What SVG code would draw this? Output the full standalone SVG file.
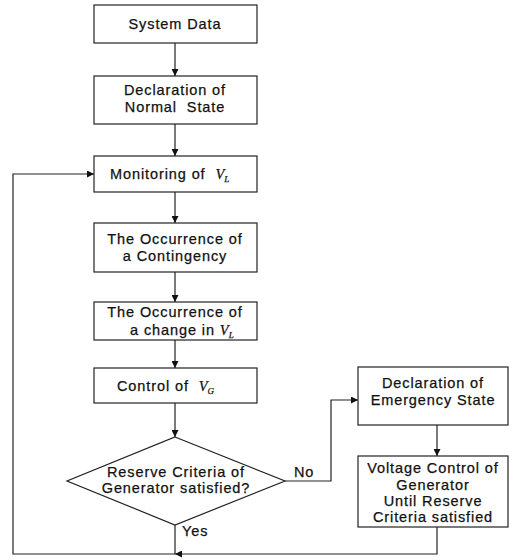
<svg xmlns="http://www.w3.org/2000/svg" width="529" height="560" viewBox="0 0 529 560">
<defs>
<marker id="ah" viewBox="0 0 10 10" refX="10" refY="5" markerWidth="7" markerHeight="7" orient="auto" markerUnits="userSpaceOnUse">
<path d="M0,0 L10,5 L0,10 z" fill="#111"/>
</marker>
<style>
.box{fill:#fff;stroke:#222;stroke-width:1.2}
.t{font-family:"Liberation Sans",Arial,sans-serif;font-size:14.5px;letter-spacing:0.9px;fill:#111;text-anchor:middle;stroke:#111;stroke-width:0.25;white-space:pre}
.l{text-anchor:start}
.v{font-family:"Liberation Serif","Times New Roman",serif;font-style:italic;letter-spacing:0}
.s{font-size:9px}
.c{fill:none;stroke:#222;stroke-width:1.2}
</style>
</defs>
<rect width="529" height="560" fill="#fff"/>
<g id="connectors">
<line class="c" x1="175" y1="43" x2="175" y2="76" marker-end="url(#ah)"/>
<line class="c" x1="175" y1="124" x2="175" y2="156" marker-end="url(#ah)"/>
<line class="c" x1="175" y1="192" x2="175" y2="223" marker-end="url(#ah)"/>
<line class="c" x1="175" y1="272" x2="175" y2="302" marker-end="url(#ah)"/>
<line class="c" x1="175" y1="340" x2="175" y2="368" marker-end="url(#ah)"/>
<line class="c" x1="175" y1="403" x2="175" y2="437" marker-end="url(#ah)"/>
<polyline class="c" points="285,481 331,481 331,400 358,400" marker-end="url(#ah)"/>
<line class="c" x1="437" y1="425" x2="437" y2="456" marker-end="url(#ah)"/>
<polyline class="c" points="437,527 437,554 175,554" marker-end="url(#ah)"/>
<line class="c" x1="175" y1="525" x2="175" y2="554"/>
<polyline class="c" points="175,554 13,554 13,174 94,174" marker-end="url(#ah)"/>
<text class="t l" x="294" y="477">No</text>
<text class="t l" x="182" y="536">Yes</text>
</g>
<g id="system-data">
<rect class="box" x="94" y="5" width="163" height="38"/>
<text class="t" x="175" y="29">System Data</text>
</g>
<g id="normal-state">
<rect class="box" x="94" y="76" width="163" height="48"/>
<text class="t" x="175" y="95">Declaration of</text>
<text class="t" x="175" y="112" xml:space="preserve">Normal  State</text>
</g>
<g id="monitoring">
<rect class="box" x="94" y="156" width="163" height="36"/>
<text class="t l" x="110" y="179" xml:space="preserve">Monitoring of  <tspan class="v">V</tspan><tspan class="v s" dy="3">L</tspan></text>
</g>
<g id="contingency">
<rect class="box" x="94" y="223" width="163" height="49"/>
<text class="t" x="175" y="244">The Occurrence of</text>
<text class="t" x="175" y="261">a Contingency</text>
</g>
<g id="change">
<rect class="box" x="94" y="302" width="163" height="38"/>
<text class="t" x="175" y="317">The Occurrence of</text>
<text class="t l" x="130" y="335">a change in <tspan class="v">V</tspan><tspan class="v s" dy="3">L</tspan></text>
</g>
<g id="control">
<rect class="box" x="94" y="368" width="163" height="35"/>
<text class="t l" x="117" y="391" xml:space="preserve">Control of  <tspan class="v">V</tspan><tspan class="v s" dy="3">G</tspan></text>
</g>
<g id="decision">
<polygon class="box" points="175,437 285,481 175,525 67,481"/>
<text class="t" x="176" y="477">Reserve Criteria of</text>
<text class="t" x="176" y="493">Generator satisfied?</text>
</g>
<g id="emergency-state">
<rect class="box" x="358" y="367" width="150" height="58"/>
<text class="t" x="433" y="388">Declaration of</text>
<text class="t" x="433" y="405">Emergency State</text>
</g>
<g id="voltage-control">
<rect class="box" x="358" y="456" width="150" height="71"/>
<text class="t" x="433" y="473">Voltage Control of</text>
<text class="t" x="433" y="490">Generator</text>
<text class="t" x="433" y="506">Until Reserve</text>
<text class="t" x="433" y="522">Criteria satisfied</text>
</g>
</svg>
